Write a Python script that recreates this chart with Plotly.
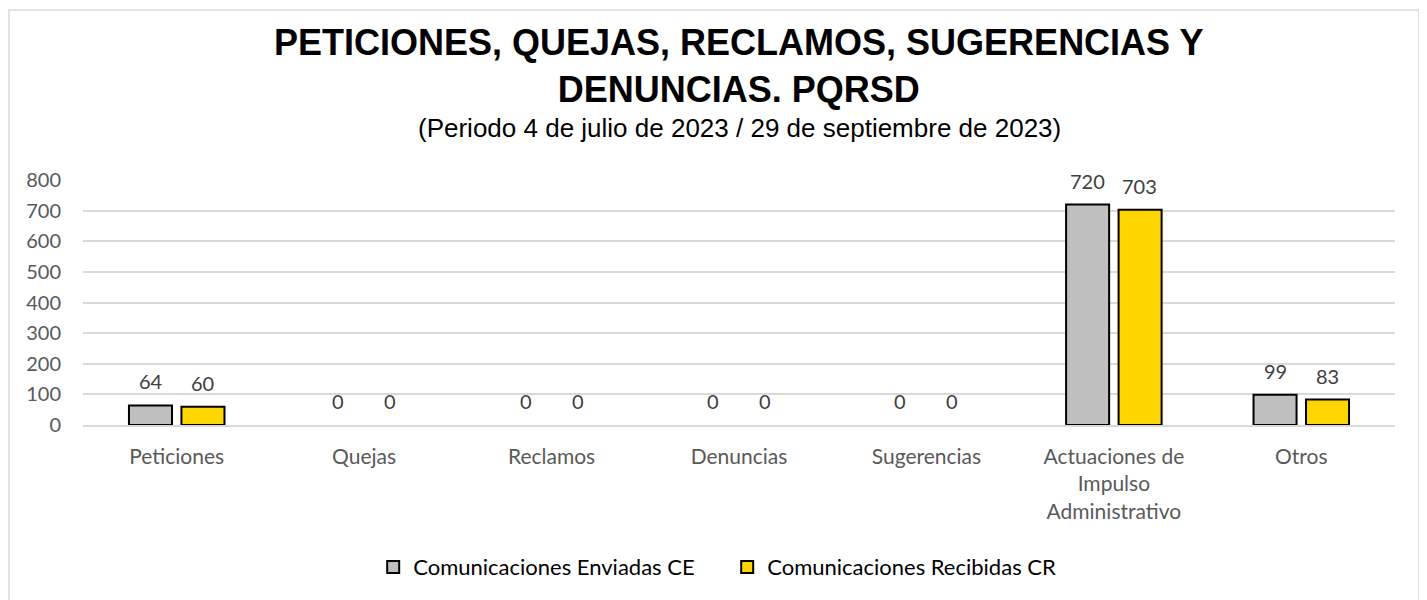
import plotly.graph_objects as go

# Data
categorias = ["Peticiones", "Quejas", "Reclamos", "Denuncias", "Sugerencias",
              "Actuaciones de<br>Impulso<br>Administrativo", "Otros"]
enviadas = [64, 0, 0, 0, 0, 720, 99]
recibidas = [60, 0, 0, 0, 0, 703, 83]
y_ticks = [0, 100, 200, 300, 400, 500, 600, 700, 800]

FONT = "Lato, Calibri, sans-serif"
lbl_font = dict(family=FONT, size=20, color="#404040")

fig = go.Figure()
series = [
    ("Comunicaciones Enviadas CE", enviadas, "#BFBFBF", -26),
    ("Comunicaciones Recibidas CR", recibidas, "#FFD500", 26),
]
annots = []
for name, vals, color, dx in series:
    fig.add_trace(go.Bar(
        x=categorias, y=vals, name=name,
        marker=dict(color=color, line=dict(color="black", width=[2 if v else 0 for v in vals])),
        cliponaxis=False,
    ))
    # etiquetas de datos encima de cada barra
    for c, v in zip(categorias, vals):
        annots.append(dict(x=c, y=v, text=str(v), xref="x", yref="y", showarrow=False,
                           xshift=dx, yshift=24, yanchor="middle", font=lbl_font))

annots += [
    dict(text="<b>PETICIONES, QUEJAS, RECLAMOS, SUGERENCIAS Y<br>DENUNCIAS. PQRSD</b>",
         xref="paper", yref="paper", x=0.5, y=1.0, yshift=114, xanchor="center", yanchor="middle",
         showarrow=False, font=dict(family="Liberation Sans, Arial, sans-serif", size=36, color="black")),
    dict(text="(Periodo 4 de julio de 2023 / 29 de septiembre de 2023)", xref="paper", yref="paper",
         x=0.5, y=1.0, yshift=52, xanchor="center", yanchor="middle", showarrow=False,
         font=dict(family="Liberation Sans, Arial, sans-serif", size=26, color="black")),
]

fig.update_layout(
    width=1419, height=592,
    margin=dict(l=75, r=32, t=172, b=175),
    paper_bgcolor="white", plot_bgcolor="white",
    barmode="group", bargap=0.44, bargroupgap=0.18,
    font=dict(family=FONT, size=21, color="#595959"),
    legend=dict(orientation="h", x=0.491, xanchor="center", y=-0.58, yanchor="middle",
                font=dict(size=22, color="black"), traceorder="normal",
                entrywidth=309, entrywidthmode="pixels", itemwidth=30),
    annotations=annots,
    shapes=[dict(type="rect", xref="paper", yref="paper", x0=-0.0564, x1=1.0183, y0=-0.75, y1=1.694,
                 line=dict(color="#D9D9D9", width=1.5))],
)
fig.update_xaxes(showline=True, linecolor="#D9D9D9", linewidth=1.5, ticks="", automargin=False,
                 ticklabelstandoff=12, tickfont=dict(size=21, color="#595959"))
fig.update_yaxes(range=[0, 800], tickvals=y_ticks, showgrid=True, gridcolor="#D9D9D9", gridwidth=1.5,
                 zeroline=False, ticks="", automargin=False, ticklabelstandoff=21,
                 tickfont=dict(size=20, color="#595959"))

fig.write_html("out.html")
